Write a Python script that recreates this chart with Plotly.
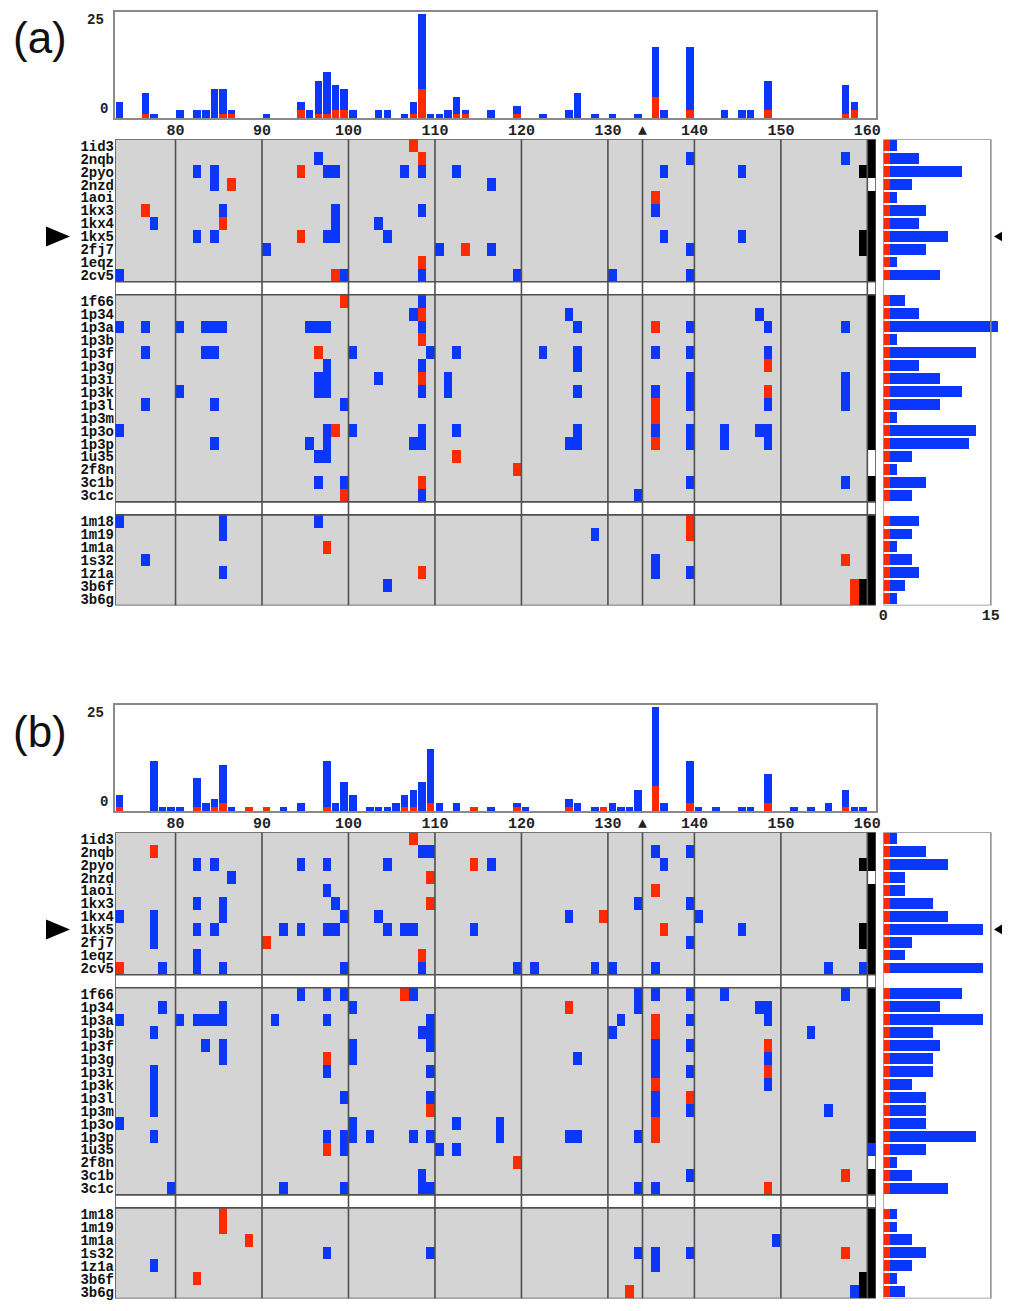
import plotly.graph_objects as go

# page geometry: the browser adds an 8px body margin, so the figure is drawn 8px smaller
PAGE_OFF = 8
FW, FH = 1002, 1295
FIRST, LAST = 73, 160

GROUP1 = ["1id3", "2nqb", "2pyo", "2nzd", "1aoi", "1kx3", "1kx4", "1kx5", "2fj7", "1eqz", "2cv5"]
GROUP2 = ["1f66", "1p34", "1p3a", "1p3b", "1p3f", "1p3g", "1p3i", "1p3k", "1p3l", "1p3m",
          "1p3o", "1p3p", "1u35", "2f8n", "3c1b", "3c1c"]
GROUP3 = ["1m18", "1m19", "1m1a", "1s32", "1z1a", "3b6f", "3b6g"]
GRID_RES = [80, 90, 100, 110, 120, 130, 134, 140, 150, 160]
TICK_RES = [80, 90, 100, 110, 120, 130, 140, 150, 160]
MARK_RES = 134
MARKED_ROW = "1kx5"

# ---------------- panel (a) ----------------
A_BLUE = [
    [], [96, 139, 157], [82, 84, 97, 98, 106, 108, 112, 136, 145], [84, 116], [],
    [85, 98, 108, 135], [77, 98, 103], [82, 84, 97, 98, 104, 136, 145], [90, 110, 116, 139], [],
    [73, 99, 108, 119, 130, 139],
    [108], [107, 125, 147], [73, 76, 80, 83, 84, 85, 95, 96, 97, 108, 126, 139, 148, 157], [],
    [76, 83, 84, 100, 109, 112, 122, 126, 135, 139, 148], [97, 108, 126],
    [96, 97, 103, 111, 139, 157], [80, 96, 97, 108, 111, 126, 135, 139, 157],
    [76, 84, 99, 139, 148, 157], [], [73, 97, 100, 108, 112, 126, 135, 139, 143, 147, 148],
    [84, 95, 97, 107, 108, 125, 126, 139, 143, 148], [96, 97], [], [96, 99, 139, 157], [108, 133],
    [73, 85, 96], [85, 128], [], [76, 135], [85, 135, 139], [104], [],
]
A_RED = [
    [107], [108], [94], [86], [135], [76], [85], [94], [113], [108], [98],
    [99], [108], [135], [108], [96], [148], [108], [148], [135], [135], [98], [135], [112], [119], [108], [99],
    [139], [139], [97], [157], [108], [158], [158],
]
A_BLACK_WIDE = ["2pyo", "1kx5", "2fj7", "3b6f", "3b6g"]
A_WHITE_END = ["2nzd", "1u35", "2f8n"]
A_RIGHT_RED = [1, 1, 1, 1, 1, 1, 1, 1, 1, 1, 1,
               1, 1, 1, 1, 1, 1, 1, 1, 1, 1, 1, 1, 1, 1, 1, 1,
               1, 1, 1, 1, 1, 1, 1]
A_RIGHT_BLUE = [1, 4, 10, 3, 1, 5, 4, 8, 5, 1, 7,
                2, 4, 15, 1, 12, 4, 7, 10, 7, 1, 12, 11, 3, 1, 5, 3,
                4, 3, 1, 3, 4, 2, 1]
A_TOP_RES = [73, 76, 77, 80, 82, 83, 84, 85, 86, 90, 94, 95, 96, 97, 98, 99, 100, 103, 104, 106,
             107, 108, 109, 110, 111, 112, 113, 116, 119, 122, 125, 126, 128, 130, 133, 135, 136,
             139, 143, 145, 146, 148, 157, 158]
A_TOP_RED = [0, 1, 0, 0, 0, 0, 0, 1, 1, 0, 2, 0, 1, 1, 2, 2, 0, 0, 0, 0,
             1, 7, 0, 0, 0, 1, 1, 0, 1, 0, 0, 0, 0, 0, 0, 5, 0,
             2, 0, 0, 0, 2, 1, 2]
A_TOP_BLUE = [4, 5, 1, 2, 2, 2, 7, 6, 1, 1, 2, 2, 8, 10, 6, 5, 2, 2, 2, 1,
              3, 18, 1, 1, 2, 4, 1, 2, 2, 1, 2, 6, 1, 1, 1, 12, 2,
              15, 2, 2, 2, 7, 7, 2]

# ---------------- panel (b) ----------------
B_BLUE = [
    [], [108, 109, 135, 139], [82, 84, 94, 97, 104, 116, 136], [86], [97], [82, 85, 98, 133, 139],
    [73, 77, 85, 99, 103, 125, 140], [77, 82, 84, 92, 94, 97, 98, 104, 106, 107, 114, 145],
    [77, 139], [82], [78, 82, 85, 99, 108, 119, 121, 128, 130, 135, 155, 159],
    [94, 97, 99, 107, 133, 135, 139, 143, 157], [78, 85, 100, 133, 147, 148],
    [73, 80, 82, 83, 84, 85, 91, 97, 109, 131, 139, 148], [77, 108, 109, 130, 153],
    [83, 85, 100, 109, 135, 139], [85, 100, 126, 135, 148], [77, 97, 109, 135, 139], [77, 148],
    [77, 99, 109, 135], [77, 135, 139, 155], [73, 100, 112, 117],
    [77, 97, 99, 100, 102, 107, 109, 117, 125, 126, 133], [99, 110, 112, 160], [], [108, 139],
    [79, 92, 99, 108, 109, 133, 135],
    [], [], [149], [97, 109, 133, 135, 139], [77, 135], [], [158],
]
B_RED = [
    [107], [77], [114], [109], [135], [109], [129], [136], [90], [108], [73],
    [106], [125], [135], [135], [148], [97], [148], [135], [139], [109], [135], [135], [97], [119], [157], [148],
    [85], [85], [88], [157], [], [82], [132],
]
B_BLACK_WIDE = ["2pyo", "1kx5", "2fj7", "3b6f", "3b6g"]
B_WHITE_END = ["2nzd", "2f8n"]
B_RIGHT_RED = [1, 1, 1, 1, 1, 1, 1, 1, 1, 1, 1,
               1, 1, 1, 1, 1, 1, 1, 1, 1, 1, 1, 1, 1, 1, 1, 1,
               1, 1, 1, 1, 1, 1, 1]
B_RIGHT_BLUE = [1, 5, 8, 2, 2, 6, 8, 13, 3, 2, 13,
                10, 7, 13, 6, 7, 6, 6, 3, 5, 5, 5, 12, 5, 1, 3, 8,
                1, 1, 3, 5, 3, 1, 2]
B_TOP_RES = [73, 77, 78, 79, 80, 82, 83, 84, 85, 86, 88, 90, 92, 94, 97, 98, 99, 100, 102, 103,
             104, 105, 106, 107, 108, 109, 110, 112, 114, 116, 119, 120, 125, 126, 128, 129, 130,
             131, 132, 133, 135, 136, 139, 140, 142, 145, 146, 148, 151, 153, 155, 157, 158, 159]
B_TOP_RED = [1, 0, 0, 0, 0, 1, 0, 1, 2, 0, 1, 1, 0, 0, 1, 0, 0, 0, 0, 0,
             0, 0, 1, 1, 0, 2, 0, 0, 1, 0, 1, 0, 1, 0, 0, 1, 0,
             0, 0, 0, 6, 0, 2, 0, 0, 0, 0, 2, 0, 0, 0, 1, 0, 0]
B_TOP_BLUE = [3, 12, 1, 1, 1, 7, 2, 2, 9, 1, 0, 0, 1, 2, 11, 2, 7, 4, 1, 1,
              1, 2, 3, 4, 7, 13, 2, 2, 0, 1, 1, 1, 2, 2, 1, 0, 2,
              1, 1, 5, 19, 2, 10, 1, 1, 1, 1, 7, 1, 1, 2, 4, 1, 1]

# ---------------- style ----------------
BLUE = "#0a37fb"
RED = "#ff2a00"
GRAY = "#d4d4d4"
LINE = "#505050"
FRAME = "#8a8a8a"
MONO = "Liberation Mono"

ROWS = GROUP1 + GROUP2 + GROUP3
slot = {}
pos = 0
for g in (GROUP1, GROUP2, GROUP3):
    for name in g:
        slot[name] = pos
        pos += 1
    pos += 1
NSLOT = pos - 1           # 36 slots incl. two gap rows
GAP_LINES = [len(GROUP1) - 0.5, len(GROUP1) + 0.5,
             len(GROUP1) + len(GROUP2) + 0.5, len(GROUP1) + len(GROUP2) + 1.5]


def build_z(blue, red, black_wide, white_end):
    ncol = LAST - FIRST + 1
    z = [[4] * ncol for _ in range(NSLOT)]
    for name in ROWS:
        s = slot[name]
        z[s] = [0] * ncol
        z[s][LAST - FIRST] = 4 if name in white_end else 3
        if name in black_wide:
            z[s][LAST - 1 - FIRST] = 3
    for name, bl, rd in zip(ROWS, blue, red):
        for r in bl:
            z[slot[name]][r - FIRST] = 1
        for r in rd:
            z[slot[name]][r - FIRST] = 2
    return z


CSCALE = [[0, GRAY], [0.125, GRAY], [0.125, BLUE], [0.375, BLUE], [0.375, RED], [0.625, RED],
          [0.625, "#000000"], [0.875, "#000000"], [0.875, "#ffffff"], [1, "#ffffff"]]


def px(xp):
    return (xp - PAGE_OFF) / FW


def py(yp):
    return 1 - (yp - PAGE_OFF) / FH


def ydom(top_px, bot_px):
    return [py(bot_px), py(top_px)]


def axname(kind, k):
    return kind + ("" if k == 1 else str(k))


fig = go.Figure()
shapes = []
annotations = []
layout_axes = {}

U_TOP = 4.17     # px per count in the top histogram
U_RIGHT = 7.17   # px per count in the side histogram
X_L, X_R = 115, 876
XR_L = 883.3
RIGHT_MAX = 16.3

panels = [
    ("(a)", 0, A_BLUE, A_RED, A_BLACK_WIDE, A_WHITE_END, A_RIGHT_RED, A_RIGHT_BLUE,
     A_TOP_RES, A_TOP_RED, A_TOP_BLUE),
    ("(b)", 693, B_BLUE, B_RED, B_BLACK_WIDE, B_WHITE_END, B_RIGHT_RED, B_RIGHT_BLUE,
     B_TOP_RES, B_TOP_RED, B_TOP_BLUE),
]

for p, (label, dy, blue, red, bwide, wend, rred, rblue, tres, tred, tblue) in enumerate(panels):
    kb, kh, kr = 3 * p + 1, 3 * p + 2, 3 * p + 3
    xb, yb = "x" + ("" if kb == 1 else str(kb)), "y" + ("" if kb == 1 else str(kb))
    xh, yh = "x" + str(kh), "y" + str(kh)
    xr, yr = "x" + str(kr), "y" + str(kr)

    bar_top, bar_bot = 12 + dy, 118.3 + dy
    heat_top, heat_bot = 139.3 + dy, 605.5 + dy

    # top histogram
    fig.add_trace(go.Bar(x=[r + 0.5 for r in tres], y=tred, marker=dict(color=RED, line=dict(width=0)),
                         width=0.86, xaxis=xb, yaxis=yb, hoverinfo="skip"))
    fig.add_trace(go.Bar(x=[r + 0.5 for r in tres], y=tblue, marker=dict(color=BLUE, line=dict(width=0)),
                         width=0.86, xaxis=xb, yaxis=yb, hoverinfo="skip"))

    # heat map
    z = build_z(blue, red, bwide, wend)
    fig.add_trace(go.Heatmap(z=z, x=[r + 0.5 for r in range(FIRST, LAST + 1)], y=list(range(NSLOT)),
                             zmin=0, zmax=4, colorscale=CSCALE, showscale=False,
                             xaxis=xh, yaxis=yh, hoverinfo="skip"))

    # side histogram
    ypos = [slot[n] for n in ROWS]
    fig.add_trace(go.Bar(y=ypos, x=rred, orientation="h", marker=dict(color=RED, line=dict(width=0)),
                         width=0.84, xaxis=xr, yaxis=yr, hoverinfo="skip"))
    fig.add_trace(go.Bar(y=ypos, x=rblue, orientation="h", marker=dict(color=BLUE, line=dict(width=0)),
                         width=0.84, xaxis=xr, yaxis=yr, hoverinfo="skip"))

    top_range = (bar_bot - bar_top) / U_TOP
    layout_axes[axname("xaxis", kb)] = dict(
        domain=[px(X_L), px(X_R)], range=[FIRST, LAST + 1], anchor=yb, automargin=False,
        tickvals=TICK_RES + [MARK_RES], ticktext=[str(t) for t in TICK_RES] + ["▲"],
        ticks="", showgrid=False, zeroline=False, showline=True, mirror=True,
        linecolor=FRAME, linewidth=1.5, ticklabelstandoff=-3,
        tickfont=dict(family=MONO, size=15, color="#222", weight="bold"))
    layout_axes[axname("yaxis", kb)] = dict(
        domain=ydom(bar_top, bar_bot), range=[0, top_range], anchor=xb, automargin=False,
        showticklabels=False, ticks="", showgrid=False, zeroline=False,
        showline=True, mirror=True, linecolor=FRAME, linewidth=1.5)

    layout_axes[axname("xaxis", kh)] = dict(
        domain=[px(X_L), px(X_R)], range=[FIRST, LAST + 1], anchor=yh, automargin=False,
        showticklabels=False, ticks="", showgrid=False, zeroline=False)
    layout_axes[axname("yaxis", kh)] = dict(
        domain=ydom(heat_top, heat_bot), range=[NSLOT - 0.5, -0.5], anchor=xh, automargin=False,
        tickvals=[slot[n] for n in ROWS], ticktext=ROWS, ticks="", showgrid=False, zeroline=False,
        ticklabelstandoff=0,
        tickfont=dict(family=MONO, size=14, color="#111", weight="bold"))

    layout_axes[axname("xaxis", kr)] = dict(
        domain=[px(XR_L), px(XR_L + RIGHT_MAX * U_RIGHT)], range=[0, RIGHT_MAX], anchor=yr,
        automargin=False,
        tickvals=[0, 15], ticktext=["0", "15"], ticks="", showgrid=False, zeroline=False,
        ticklabelstandoff=-2,
        tickfont=dict(family=MONO, size=15, color="#222", weight="bold"))
    layout_axes[axname("yaxis", kr)] = dict(
        domain=ydom(heat_top, heat_bot), range=[NSLOT - 0.5, -0.5], anchor=xr, automargin=False,
        showticklabels=False, ticks="", showgrid=False, zeroline=False)

    # grid lines of the heat map
    for g in GRID_RES:
        shapes.append(dict(type="line", xref=xh, yref=yh, x0=g, x1=g, y0=-0.5, y1=NSLOT - 0.5,
                           line=dict(color=LINE, width=1.6), layer="above"))
    for yy in GAP_LINES:
        shapes.append(dict(type="line", xref=xh, yref=yh, x0=FIRST, x1=LAST + 1, y0=yy, y1=yy,
                           line=dict(color=LINE, width=1.6), layer="above"))
    shapes.append(dict(type="rect", xref=xh, yref=yh, x0=FIRST, x1=LAST + 1, y0=-0.5, y1=NSLOT - 0.5,
                       line=dict(color=LINE, width=1.6), layer="above"))
    shapes.append(dict(type="rect", xref=xr, yref=yr, x0=0, x1=15, y0=-0.5, y1=NSLOT - 0.5,
                       line=dict(color=FRAME, width=1.5), layer="above"))

    # pointer triangles beside the marked row
    ya = heat_top + (slot[MARKED_ROW] + 0.5) * (heat_bot - heat_top) / NSLOT
    shapes.append(dict(type="path", xref="paper", yref="paper",
                       path=f"M {px(46)},{py(ya - 10)} L {px(70)},{py(ya)} L {px(46)},{py(ya + 10)} Z",
                       fillcolor="#000", line=dict(width=0)))
    shapes.append(dict(type="path", xref="paper", yref="paper",
                       path=f"M {px(1009)},{py(ya - 9)} L {px(994)},{py(ya)} L {px(1009)},{py(ya + 9)} Z",
                       fillcolor="#000", line=dict(width=0)))

    # labels
    annotations.append(dict(text=label, x=px(40), y=py(38 + dy), xref="paper", yref="paper",
                            xanchor="center", yanchor="middle", showarrow=False,
                            font=dict(family="Liberation Sans", size=44, color="#111")))
    annotations.append(dict(text="25", x=px(95), y=py(20.5 + dy), xref="paper", yref="paper",
                            xanchor="center", yanchor="middle", showarrow=False,
                            font=dict(family=MONO, size=14, color="#222", weight="bold")))
    annotations.append(dict(text="0", x=px(104), y=py(109.5 + dy), xref="paper", yref="paper",
                            xanchor="center", yanchor="middle", showarrow=False,
                            font=dict(family=MONO, size=14, color="#222", weight="bold")))

fig.update_layout(
    width=FW, height=FH, margin=dict(l=0, r=0, t=0, b=0, autoexpand=False),
    paper_bgcolor="white", plot_bgcolor="white",
    barmode="stack", bargap=0, showlegend=False,
    shapes=shapes, annotations=annotations,
    **layout_axes,
)

fig.write_html("out.html")
